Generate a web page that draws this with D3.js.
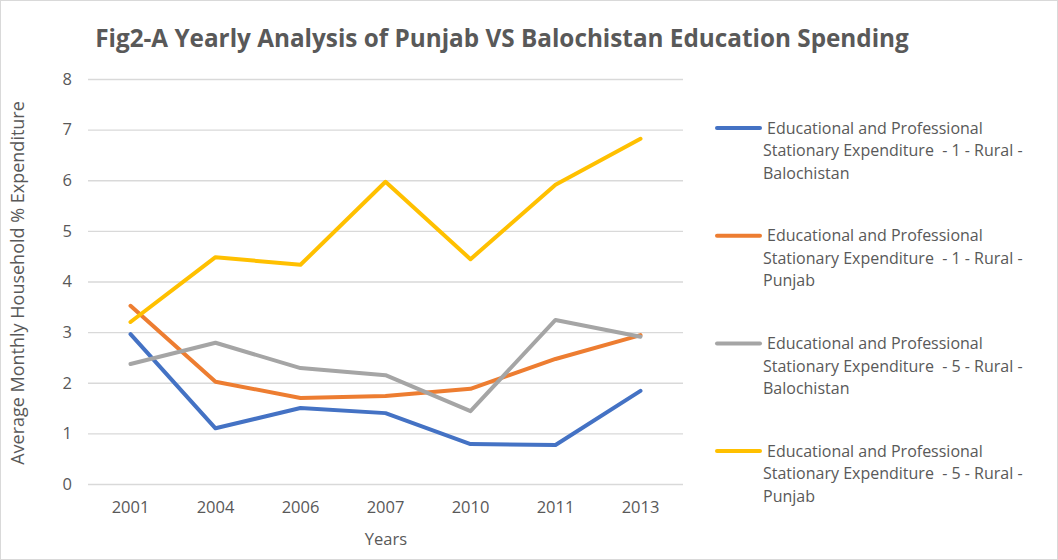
<!DOCTYPE html>
<html><head><meta charset="utf-8">
<script src="https://cdn.jsdelivr.net/npm/d3@7"></script>
<style>body{margin:0;background:#fff;} svg{display:block;font-family:"Open Sans",Calibri,sans-serif;} text{white-space:pre;}</style>
</head><body><svg id="c" width="1058" height="560"></svg>
<script>
const years = ["2001","2004","2006","2007","2010","2011","2013"];
const seriesNames = [
  "Educational and Professional Stationary Expenditure  - 1 - Rural - Balochistan",
  "Educational and Professional Stationary Expenditure  - 1 - Rural - Punjab",
  "Educational and Professional Stationary Expenditure  - 5 - Rural - Balochistan",
  "Educational and Professional Stationary Expenditure  - 5 - Rural - Punjab"
];
const legendLines = [
  ["Educational and Professional","Stationary Expenditure  - 1 - Rural -","Balochistan"],
  ["Educational and Professional","Stationary Expenditure  - 1 - Rural -","Punjab"],
  ["Educational and Professional","Stationary Expenditure  - 5 - Rural -","Balochistan"],
  ["Educational and Professional","Stationary Expenditure  - 5 - Rural -","Punjab"]
];
const bal1 = [2.96, 1.10, 1.50, 1.40, 0.79, 0.77, 1.84];
const pun1 = [3.52, 2.02, 1.70, 1.74, 1.88, 2.47, 2.94];
const bal5 = [2.37, 2.79, 2.29, 2.15, 1.44, 3.24, 2.91];
const pun5 = [3.20, 4.48, 4.33, 5.97, 4.44, 5.91, 6.82];
const colors = ["#4472C4","#ED7D31","#A5A5A5","#FFC000"];
const yTicks = [0,1,2,3,4,5,6,7,8];
const seriesValues = [bal1, pun1, bal5, pun5];

const svg = d3.select("#c");
svg.append("rect").attr("x",0.5).attr("y",0.5).attr("width",1057).attr("height",559)
  .attr("fill","#fff").attr("stroke","#d9d9d9");

const pL=88, pR=683, pT=79, pB=484;
const x = d3.scaleBand().domain(years).range([pL,pR]);
const y = d3.scaleLinear().domain([0,8]).range([pB,pT]);
const txt = "#595959";

// gridlines
const gy = svg.append("g").attr("transform",`translate(${pL},0)`)
  .call(d3.axisLeft(y).tickValues(yTicks).tickSize(-(pR-pL)).tickFormat(""));
gy.select(".domain").remove();
gy.selectAll("line").attr("stroke","#d9d9d9").attr("stroke-width",1.3);

// y labels
svg.append("g").selectAll("text").data(yTicks).join("text")
  .attr("x",72).attr("y",d=>y(d)).attr("dy","0.35em").attr("text-anchor","end")
  .attr("fill",txt).attr("font-size",16.5).text(d=>d);

// x labels
const gx = svg.append("g").attr("transform",`translate(0,${pB})`)
  .call(d3.axisBottom(x).tickSize(0).tickPadding(17));
gx.select(".domain").remove();
gx.selectAll("text").attr("fill",txt).attr("font-size",16.5).attr("font-family","'Open Sans',sans-serif");

// lines
const line = d3.line().x((d,i)=>x(years[i])+x.bandwidth()/2).y(d=>y(d));
svg.append("g").selectAll("path").data(seriesValues).join("path")
  .attr("d",line).attr("fill","none").attr("stroke",(d,i)=>colors[i])
  .attr("stroke-width",4).attr("stroke-linejoin","round").attr("stroke-linecap","round");

// title
svg.append("text").attr("x",502).attr("y",47).attr("text-anchor","middle")
  .attr("fill",txt).attr("font-size",24.3).attr("font-weight","bold")
  .text("Fig2-A Yearly Analysis of Punjab VS Balochistan Education Spending");

// axis titles
svg.append("text").attr("x",386).attr("y",545).attr("text-anchor","middle")
  .attr("fill",txt).attr("font-size",16.5).text("Years");
svg.append("text").attr("transform","translate(24,283) rotate(-90)").attr("text-anchor","middle")
  .attr("fill",txt).attr("font-size",18).text("Average Monthly Household % Expenditure");

// legend
const lg = svg.append("g").selectAll("g").data(seriesNames).join("g")
  .attr("transform",(d,i)=>`translate(0,${128 + i*107.7})`);
lg.append("line").attr("x1",717).attr("x2",760).attr("y1",0).attr("y2",0)
  .attr("stroke",(d,i)=>colors[i]).attr("stroke-width",4).attr("stroke-linecap","round");
lg.each(function(d,i){
  const g = d3.select(this);
  legendLines[i].forEach((t,j)=>{
    g.append("text").attr("x", j===0?767:763).attr("y", j*22.6).attr("dy","0.35em")
      .attr("fill",txt).attr("font-size",16).text(t);
  });
});
</script></body></html>
